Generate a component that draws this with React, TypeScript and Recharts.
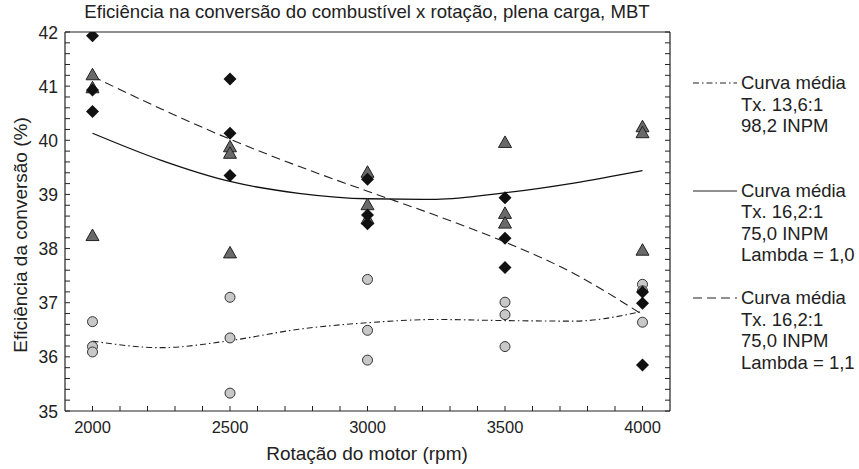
import * as React from 'react';
import { ComposedChart, Scatter, Line, XAxis, YAxis } from 'recharts';

// Engine speed (rpm) at which efficiency was measured
const RPM = [2000, 2500, 3000, 3500, 4000];

// Measured fuel conversion efficiency (%), three runs per speed
const EFF_136 = [
  [36.65, 36.19, 36.09],
  [37.1, 36.35, 35.33],
  [37.43, 36.49, 35.94],
  [37.01, 36.78, 36.19],
  [37.34, 37.22, 36.64],
];
const EFF_162_L10 = [
  [41.21, 40.97, 38.24],
  [39.88, 39.76, 37.92],
  [39.41, 38.81, 38.55],
  [39.96, 38.65, 38.47],
  [40.25, 40.14, 37.97],
];
const EFF_162_L11 = [
  [41.93, 40.93, 40.53],
  [41.13, 40.13, 39.35],
  [39.28, 38.62, 38.46],
  [38.94, 38.19, 37.65],
  [37.2, 36.99, 35.85],
];

// Mean curves
const CURVE_RPM = [2000, 2250, 2500, 2750, 3000, 3250, 3500, 3750, 4000];
const AVG_136 = [36.29, 36.17, 36.3, 36.51, 36.63, 36.69, 36.67, 36.66, 36.84];
const AVG_162_L10 = [40.13, 39.63, 39.24, 39.02, 38.92, 38.91, 39.03, 39.21, 39.44];
const AVG_162_L11 = [41.18, 40.58, 40.02, 39.52, 39.06, 38.61, 38.12, 37.54, 36.78];

const X_LABELS = [2000, 2500, 3000, 3500, 4000];
const Y_LABELS = [35, 36, 37, 38, 39, 40, 41, 42];

const LEGEND = [
  { lines: ['Curva média', 'Tx. 13,6:1', '98,2 INPM'], dash: '6 3 1.5 3' },
  { lines: ['Curva média', 'Tx. 16,2:1', '75,0 INPM', 'Lambda = 1,0'], dash: undefined },
  { lines: ['Curva média', 'Tx. 16,2:1', '75,0 INPM', 'Lambda = 1,1'], dash: '9 5' },
];

const FONT = '"Liberation Sans", Arial, sans-serif';
const INK = '#222';

const X_DOMAIN: [number, number] = [1900, 4100];
const Y_DOMAIN: [number, number] = [35, 42];

// minor tick positions: every 100 rpm and every 0.2 %
const xTicks: number[] = [];
for (let v = 2000; v <= 4000; v += 100) xTicks.push(v);
const yTicks: number[] = [];
for (let i = 0; i <= 35; i++) yTicks.push(Math.round((35 + i * 0.2) * 10) / 10);

const toPoints = (rows: number[][]) =>
  rows.flatMap((vals, i) => vals.map(eff => ({ rpm: RPM[i], eff })));
const toCurve = (vals: number[]) => vals.map((eff, i) => ({ rpm: CURVE_RPM[i], eff }));

const BottomTick = ({ x, y, payload }: any) => (
  <g>
    <line x1={x} x2={x} y1={y} y2={y - 5} stroke={INK} />
    {X_LABELS.includes(payload.value) && (
      <text x={x} y={y + 22} textAnchor="middle" fontSize={16.5} fill={INK} fontFamily={FONT}>
        {payload.value}
      </text>
    )}
  </g>
);
const TopTick = ({ x, y }: any) => <line x1={x} x2={x} y1={y} y2={y + 5} stroke={INK} />;
const LeftTick = ({ x, y, payload }: any) => (
  <g>
    <line x1={x} x2={x + 5} y1={y} y2={y} stroke={INK} />
    {Y_LABELS.includes(payload.value) && (
      <text x={x - 7} y={y + 6.5} textAnchor="end" fontSize={17.5} fill={INK} fontFamily={FONT}>
        {payload.value}
      </text>
    )}
  </g>
);
const RightTick = ({ x, y }: any) => <line x1={x} x2={x - 5} y1={y} y2={y} stroke={INK} />;

const circleShape = (p: any) => (
  <circle cx={p.cx} cy={p.cy} r={5} fill="#c8c8c8" stroke="#333" strokeWidth={1} />
);
const triangleShape = (p: any) => (
  <polygon
    points={`${p.cx},${p.cy - 6.5} ${p.cx + 6.5},${p.cy + 5} ${p.cx - 6.5},${p.cy + 5}`}
    fill="#6a6a6a"
    stroke="#222"
    strokeWidth={1}
  />
);
const diamondShape = (p: any) => (
  <polygon
    points={`${p.cx},${p.cy - 6.5} ${p.cx + 6.5},${p.cy} ${p.cx},${p.cy + 6.5} ${p.cx - 6.5},${p.cy}`}
    fill="#111"
  />
);

export default function App() {
  return (
    <div style={{ position: 'absolute', left: 0, top: 0, width: 859, height: 469, background: '#fff', fontFamily: FONT, color: INK }}>
      <div style={{ position: 'absolute', left: 367, top: 1, transform: 'translateX(-50%)', whiteSpace: 'nowrap', fontSize: 18.6, lineHeight: '22px' }}>
        Eficiência na conversão do combustível x rotação, plena carga, MBT
      </div>
      <div style={{ position: 'absolute', left: 21, top: 235, transform: 'translate(-50%, -50%) rotate(-90deg)', whiteSpace: 'nowrap', fontSize: 19 }}>
        Eficiência da conversão (%)
      </div>
      <div style={{ position: 'absolute', left: 367, top: 443, transform: 'translateX(-50%)', whiteSpace: 'nowrap', fontSize: 19 }}>
        Rotação do motor (rpm)
      </div>

      <ComposedChart
        width={859}
        height={469}
        margin={{ top: 31, right: 188, bottom: 28, left: 25 }}
      >
        <XAxis xAxisId="b" dataKey="rpm" type="number" domain={X_DOMAIN} ticks={xTicks} interval={0}
          height={30} tickSize={0} tickMargin={0} tick={BottomTick} tickLine={false}
          axisLine={{ stroke: INK, strokeWidth: 1.2 }} allowDataOverflow />
        <XAxis xAxisId="t" orientation="top" type="number" domain={X_DOMAIN} ticks={xTicks} interval={0}
          height={1} tickSize={0} tickMargin={0} tick={TopTick} tickLine={false}
          axisLine={{ stroke: INK, strokeWidth: 1.2 }} allowDataOverflow />
        <YAxis yAxisId="l" dataKey="eff" type="number" domain={Y_DOMAIN} ticks={yTicks} interval={0}
          width={40} tickSize={0} tickMargin={0} tick={LeftTick} tickLine={false}
          axisLine={{ stroke: INK, strokeWidth: 1.2 }} allowDataOverflow />
        <YAxis yAxisId="r" orientation="right" type="number" domain={Y_DOMAIN} ticks={yTicks} interval={0}
          width={1} tickSize={0} tickMargin={0} tick={RightTick} tickLine={false}
          axisLine={{ stroke: INK, strokeWidth: 1.2 }} allowDataOverflow />

        <Line xAxisId="b" yAxisId="l" data={toCurve(AVG_136)} dataKey="eff" type="monotone"
          stroke="#222" strokeWidth={1.1} strokeDasharray="6 3 1.5 3" dot={false} isAnimationActive={false} />
        <Line xAxisId="b" yAxisId="l" data={toCurve(AVG_162_L10)} dataKey="eff" type="monotone"
          stroke="#111" strokeWidth={1.3} dot={false} isAnimationActive={false} />
        <Line xAxisId="b" yAxisId="l" data={toCurve(AVG_162_L11)} dataKey="eff" type="monotone"
          stroke="#222" strokeWidth={1.1} strokeDasharray="9 5" dot={false} isAnimationActive={false} />

        <Scatter xAxisId="b" yAxisId="l" data={toPoints(EFF_136)} dataKey="eff" shape={circleShape} isAnimationActive={false} />
        <Scatter xAxisId="b" yAxisId="l" data={toPoints(EFF_162_L10)} dataKey="eff" shape={triangleShape} isAnimationActive={false} />
        <Scatter xAxisId="b" yAxisId="l" data={toPoints(EFF_162_L11)} dataKey="eff" shape={diamondShape} isAnimationActive={false} />
      </ComposedChart>

      {LEGEND.map((item, i) => (
        <div key={i} style={{ position: 'absolute', left: 693, top: 72 + i * 107.5, display: 'flex', fontSize: 18.5, lineHeight: '21.5px' }}>
          <svg width={46} height={21} style={{ flex: 'none' }}>
            <line x1={0} x2={44} y1={11} y2={11} stroke="#222" strokeWidth={1.1} strokeDasharray={item.dash} />
          </svg>
          <div style={{ marginLeft: 2 }}>
            {item.lines.map(t => <div key={t}>{t}</div>)}
          </div>
        </div>
      ))}
    </div>
  );
}
